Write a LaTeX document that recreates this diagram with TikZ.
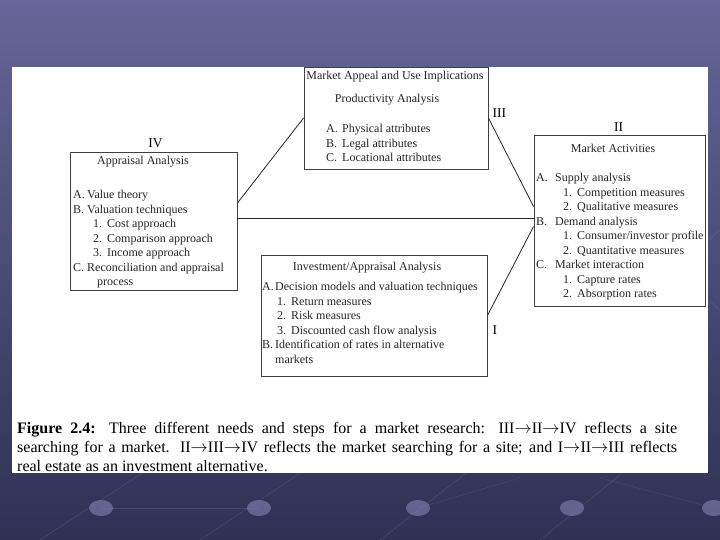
\documentclass[tikz,border=0pt]{standalone}
\usepackage{fontspec}
\setmainfont{Liberation Serif}
\usetikzlibrary{positioning}
\usetikzlibrary{calc}
\definecolor{slidetop}{RGB}{102,102,152}
\definecolor{slidebot}{RGB}{46,48,84}
\definecolor{texture}{RGB}{120,122,168}

% list markers: letter item and numbered sub item
\newcommand{\ia}[2][15pt]{\makebox[#1][l]{#2}}
\newcommand{\ib}[2][20pt]{\hspace*{#1}\makebox[14pt][l]{#2}}

\begin{document}
\begin{tikzpicture}[x=1pt,y=-1pt,
  box/.style={draw=black!75, line width=0.9pt, fill=white, inner sep=0pt},
  head/.style={font=\fontsize{12}{14.5}\selectfont, text=black!85, inner sep=0pt},
  items/.style={font=\fontsize{12}{14.5}\selectfont, text=black!85, align=left,
                inner sep=0pt, anchor=north west},
  numeral/.style={font=\fontsize{13.5}{16}\selectfont, inner sep=0pt},
  link/.style={line width=0.8pt, black!85}]

\useasboundingbox (0,0) rectangle (720,540);

%---------------------------------------
% Slide background
%---------------------------------------
\shade[top color=slidetop, bottom color=slidebot] (0,0) rectangle (720,540);
\draw[texture, opacity=0.4] (40,540) -- (170,455);
\draw[texture, opacity=0.4] (200,540) -- (320,460);
\draw[texture, opacity=0.4] (380,540) -- (470,470);
\draw[texture, opacity=0.4] (540,540) -- (620,475);
\draw[texture, opacity=0.3] (101,508) -- (259,508);
\draw[texture, opacity=0.3] (418,508) -- (520,478);
\draw[texture, opacity=0.3] (600,478) -- (714,508);
\draw[texture, opacity=0.4] (708,240) -- (720,230);
\draw[texture, opacity=0.4] (708,300) -- (720,310);
\foreach \dx in {101,259,418,572,714}
  \fill[texture, opacity=0.7] (\dx,508) ellipse (12pt and 8pt);

% white page
\fill[white] (12,67) rectangle (708,473);

%====================================================
% Boxes
%====================================================
\node[box, minimum width=184pt, minimum height=102pt] (prod) at (396,118) {};
\node[box, minimum width=167pt, minimum height=138pt] (iv)   at (153.5,221) {};
\node[box, minimum width=171pt, minimum height=171pt] (ii)   at (619.5,220.5) {};
\node[box, minimum width=226pt, minimum height=121pt] (inv)  at (374,315.5) {};

% ---- III: productivity ----
\node[head] (prodtop)  at (395,77)  {Market Appeal and Use Implications};
\node[head] (prodhead) at (387,100) {Productivity Analysis};
\node[items] (prodlist) at (326,124) {%
  \ia[16pt]{A.}Physical attributes\\
  \ia[16pt]{B.}Legal attributes\\
  \ia[16pt]{C.}Locational attributes};

% ---- IV: appraisal ----
\node[head] (ivhead) at (143,162) {Appraisal Analysis};
\node[items] (ivlist) at (73,190) {%
  \ia[14pt]{A.}Value theory\\
  \ia[14pt]{B.}Valuation techniques\\
  \ib{1.}Cost approach\\
  \ib{2.}Comparison approach\\
  \ib{3.}Income approach\\
  \ia[14pt]{C.}Reconciliation and appraisal\\
  \hspace*{24pt}process};

% ---- II: market activities ----
\node[head] (iihead) at (613,148) {Market Activities};
\node[items] (iilist) at (536,173) {%
  \ia[19pt]{A.}Supply analysis\\
  \ib[27pt]{1.}Competition measures\\
  \ib[27pt]{2.}Qualitative measures\\
  \ia[19pt]{B.}Demand analysis\\
  \ib[27pt]{1.}Consumer/investor profile\\
  \ib[27pt]{2.}Quantitative measures\\
  \ia[19pt]{C.}Market interaction\\
  \ib[27pt]{1.}Capture rates\\
  \ib[27pt]{2.}Absorption rates};

% ---- I: investment ----
\node[head] (invhead) at (367,268) {Investment/Appraisal Analysis};
\node[items] (invlist) at (262,282) {%
  \ia[13pt]{A.}Decision models and valuation techniques\\
  \ib[15pt]{1.}Return measures\\
  \ib[15pt]{2.}Risk measures\\
  \ib[15pt]{3.}Discounted cash flow analysis\\
  \ia[13pt]{B.}Identification of rates in alternative\\
  \hspace*{13pt}markets};

% Numerals
\node[numeral, above=4pt of iv, xshift=2pt] (lbliv) {IV};
\node[numeral, above=3pt of ii, xshift=-1pt] (lblii) {II};
\node[numeral, anchor=south west] (lbliii) at ([xshift=4pt]prod.east) {III};
\node[numeral, anchor=north west] (lbli) at ([xshift=5pt,yshift=-10pt]inv.east) {I};

%====================================================
% Connectors
%====================================================
\coordinate (ivmid) at ([yshift=3pt]iv.east);
\draw[link] ([yshift=18pt]iv.east) -- (prod.west);
\draw[link] (ivmid) -- (ivmid -| ii.west);
\draw[link] (prod.east) -- ([yshift=14pt]ii.west);
\draw[link] ([yshift=-6pt]ii.west) -- (inv.east);

% Caption
\node[anchor=north west, inner sep=0pt, text width=660pt, align=justify,
      font=\fontsize{16}{19}\selectfont] (caption) at (17,422) {%
  \textbf{Figure 2.4:} Three different needs and steps for a market research:
  III$\rightarrow$II$\rightarrow$IV reflects a site\linebreak
  searching for a market. II$\rightarrow$III$\rightarrow$IV reflects the market
  searching for a site; and I$\rightarrow$II$\rightarrow$III reflects\linebreak
  real estate as an investment alternative.};

\end{tikzpicture}
\end{document}
